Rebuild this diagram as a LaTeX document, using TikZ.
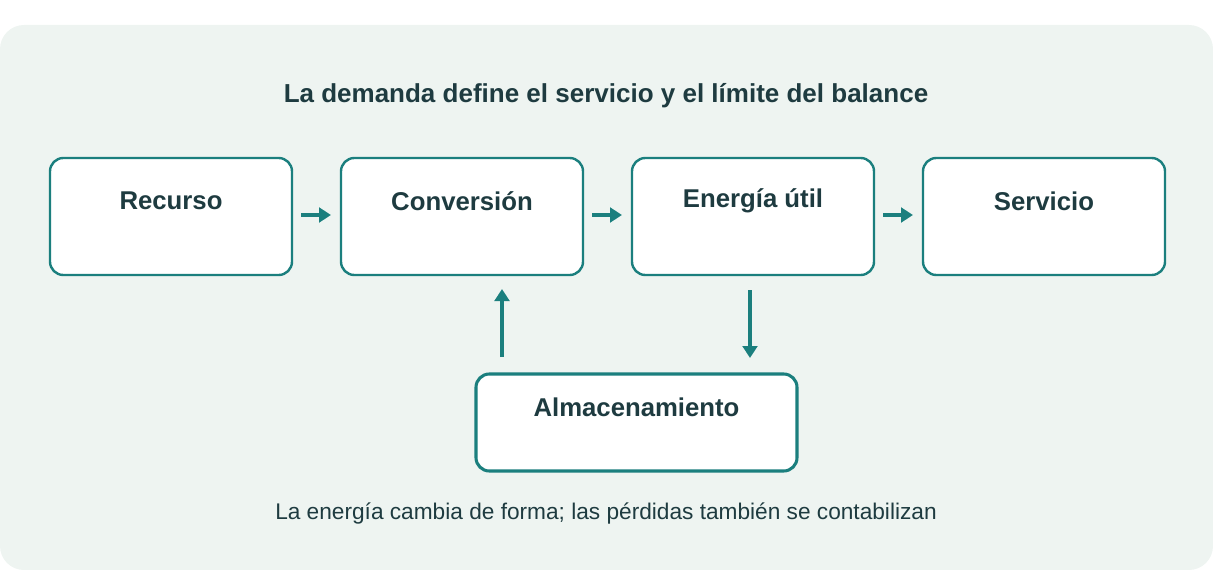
\documentclass[tikz,border=0pt]{standalone}
\usepackage{fontspec}
\setmainfont{Liberation Sans}
\usetikzlibrary{arrows.meta}
\definecolor{teal1}{HTML}{1B7F7E}
\definecolor{panel}{HTML}{EEF4F1}
\definecolor{ink}{HTML}{1E3B40}
\begin{document}
\begin{tikzpicture}[x=0.75pt,y=-0.75pt,
  box/.style={draw=teal1,line width=1.8pt,fill=white,rounded corners=10pt,minimum width=242*0.75pt,minimum height=117*0.75pt},
  lbl/.style={font=\fontsize{19.3}{22}\selectfont\bfseries,text=ink},
  arr/.style={draw=teal1,line width=2.5pt,-{Triangle[length=9pt,width=11pt]}}]
\useasboundingbox (0,0) rectangle (1213,570);
\fill[panel,rounded corners=18pt] (0,25) rectangle (1213,570);
\node[lbl,font=\fontsize{19.5}{22}\selectfont\bfseries] (title) at (606,96) {La demanda define el servicio y el límite del balance};
\node[box] (rec) at (171,216.5) {};
\node[box] (con) at (462,216.5) {};
\node[box] (ene) at (753,216.5) {};
\node[box] (ser) at (1044,216.5) {};
\node[box,line width=2.3pt,minimum width=321*0.75pt,minimum height=97*0.75pt] (alm) at (636.5,422.5) {};
\node[lbl] at (171,201) {Recurso};
\node[lbl] at (462,201) {Conversión};
\node[lbl] at (753,201) {Energía útil};
\node[lbl] at (1044,201) {Servicio};
\node[lbl] at (636.5,407) {Almacenamiento};
\coordinate (a1) at (301,215); \coordinate (b1) at (331,215);
\coordinate (a2) at (592,215); \coordinate (b2) at (622,215);
\coordinate (a3) at (883,215); \coordinate (b3) at (913,215);
\draw[arr] (a1) -- (b1);
\draw[arr] (a2) -- (b2);
\draw[arr] (a3) -- (b3);
\coordinate (u1) at (502,357); \coordinate (u2) at (502,289);
\coordinate (d1) at (750,290); \coordinate (d2) at (750,358);
\draw[arr] (u1) -- (u2);
\draw[arr] (d1) -- (d2);
\node[font=\fontsize{17}{20}\selectfont,text=ink] (cap) at (606,514) {La energía cambia de forma; las pérdidas también se contabilizan};
\end{tikzpicture}
\end{document}
